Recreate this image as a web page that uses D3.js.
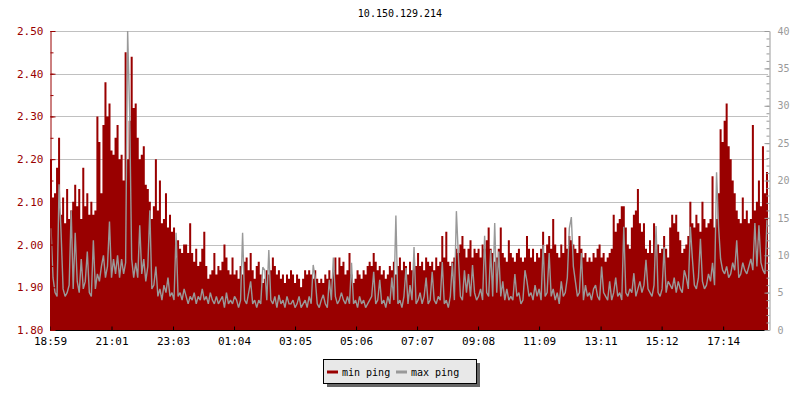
<!DOCTYPE html>
<html>
<head>
<meta charset="utf-8">
<script src="https://cdn.jsdelivr.net/npm/d3@7/dist/d3.min.js"></script>
<style>
  html, body { margin: 0; padding: 0; background: #ffffff; }
  svg { display: block; }
  text { font-family: "DejaVu Sans Mono", "Liberation Mono", monospace; }
</style>
</head>
<body>
<svg id="chart" width="800" height="400"></svg>
<script>
// ---------------- data ----------------
const title = "10.150.129.214";
const startTime = "18:59";
const sampleMinutes = 4;
const seriesNames = ["min ping", "max ping"];
const timeLabels = ["18:59","21:01","23:03","01:04","03:05","05:06","07:07","09:08","11:09","13:11","15:12","17:14"];
const leftTicks = [1.80, 1.90, 2.00, 2.10, 2.20, 2.30, 2.40, 2.50];
const rightTicks = [0, 5, 10, 15, 20, 25, 30, 35, 40];

// min ping (left axis)
const minPing = [
2.20,2.11,2.12,2.18,2.25,2.07,2.11,2.05,2.13,2.06,
2.08,2.10,2.14,2.09,2.13,2.06,2.18,2.09,2.12,2.07,
2.10,2.07,2.08,2.30,2.24,2.12,2.28,2.38,2.30,2.33,
2.22,2.21,2.25,2.28,2.20,2.21,2.15,2.45,2.20,2.29,
2.44,2.32,2.33,2.25,2.20,2.21,2.23,2.14,2.13,2.10,
2.06,2.09,2.20,2.08,2.15,2.05,2.06,2.12,2.04,2.07,
2.03,2.04,1.97,2.01,1.99,1.98,2.00,2.00,1.98,2.05,
1.98,1.96,1.99,1.95,1.96,1.99,2.03,1.95,1.92,1.93,
1.94,1.98,1.93,1.95,1.94,1.96,2.00,1.97,1.94,1.93,
1.97,1.93,1.94,1.92,1.95,1.93,1.96,1.97,1.94,1.98,
1.94,1.92,1.95,1.96,1.93,1.91,1.92,1.94,1.93,
1.94,1.97,1.95,1.93,1.94,1.92,1.93,1.91,1.93,1.92,
1.94,1.93,1.91,1.93,1.92,1.90,1.92,1.94,1.93,1.94,
1.93,1.92,1.94,1.92,1.91,1.92,1.91,1.93,1.92,1.94,
1.92,1.94,1.97,1.93,1.97,1.95,1.96,1.93,1.94,1.98,
1.93,1.91,1.92,1.94,1.93,1.92,1.94,1.93,1.95,1.96,
1.95,1.98,1.96,1.94,1.95,1.93,1.94,1.92,1.93,1.95,
1.94,1.96,1.93,1.95,1.97,1.94,1.96,1.95,1.93,1.96,
1.94,1.96,1.95,1.98,1.95,1.96,1.94,1.97,1.96,1.95,
1.96,1.94,1.97,1.95,1.96,2.02,1.97,2.03,1.96,1.95,
1.96,1.97,1.99,1.98,2.00,2.02,1.99,1.97,1.99,
2.01,1.97,1.99,1.98,1.99,1.97,2.00,1.99,2.01,2.04,
1.99,1.98,1.96,1.97,1.99,2.04,1.98,1.97,1.96,2.01,
1.98,1.97,1.96,1.98,1.99,1.97,1.96,1.97,2.02,1.99,
1.97,1.99,1.96,1.98,1.97,1.99,2.03,1.98,2.00,2.02,
1.99,2.06,2.00,1.98,1.97,2.00,1.98,2.04,1.99,2.02,
2.01,2.00,1.99,1.98,2.02,1.99,1.97,1.98,1.96,1.97,
1.96,1.98,1.97,1.99,2.00,1.97,1.98,1.96,1.97,1.98,
1.99,2.07,2.03,2.05,2.06,2.09,2.09,2.04,2.00,1.99,
2.04,2.07,2.08,2.13,2.05,2.03,2.05,1.99,1.98,2.01,
1.98,2.05,1.99,2.00,1.98,1.99,2.02,1.99,1.97,
2.04,2.07,2.05,2.07,2.03,2.01,1.98,1.99,2.00,2.02,
2.10,2.05,2.04,2.07,2.05,2.03,2.10,2.06,2.04,2.05,
2.06,2.16,2.04,2.06,2.12,2.27,2.24,2.29,2.33,2.23,
2.20,2.15,2.12,2.08,2.06,2.05,2.11,2.06,2.08,2.05,
2.06,2.28,2.08,2.10,2.15,2.09,2.23,2.12,2.17
];

// max ping (right axis)
const maxPing = [
13.6,7.0,5.0,4.5,19.5,13.0,5.5,4.5,5.0,6.0,
16.0,5.5,13.0,6.5,5.0,9.5,5.5,6.5,10.5,5.0,
4.5,12.0,5.5,7.5,6.5,8.5,10.0,7.0,8.5,14.5,
7.0,9.5,7.5,10.0,7.0,9.5,7.5,9.0,40.0,29.0,
9.5,7.0,9.0,7.0,14.0,7.5,9.5,6.5,8.5,16.0,
5.5,6.0,8.5,4.5,5.5,4.0,6.0,5.0,7.0,4.5,
5.0,4.0,13.0,4.5,5.0,4.0,5.5,4.5,3.5,4.5,
4.0,5.0,3.5,4.5,4.0,5.5,4.0,4.5,3.5,5.0,
4.0,3.5,4.5,3.5,4.0,4.5,3.0,5.0,3.5,4.0,
3.5,4.5,4.0,3.0,4.0,13.0,4.0,3.5,5.0,6.5,
3.5,4.0,3.0,4.0,3.5,8.4,8.0,4.0,10.7,
4.0,3.5,4.5,3.0,4.7,3.5,4.0,3.0,4.5,3.5,
3.5,4.0,3.0,3.5,4.5,3.0,3.5,4.0,3.0,4.5,
3.5,8.7,6.9,3.5,3.0,4.0,4.7,3.5,3.0,6.7,
4.0,9.7,4.5,3.5,4.0,5.0,4.0,3.5,4.5,3.5,
9.0,3.5,4.0,3.0,4.5,3.5,4.0,3.0,3.5,4.0,
4.5,7.8,3.5,4.0,6.7,3.5,4.0,3.0,4.5,3.5,
7.0,4.0,15.3,3.5,4.0,3.0,4.5,8.3,3.5,6.0,
4.0,11.1,3.5,4.0,5.0,3.5,4.5,7.0,3.5,4.0,
7.8,4.0,3.5,4.5,4.0,9.1,3.5,4.0,3.0,4.5,
9.0,4.0,15.9,9.8,4.5,4.0,8.0,5.0,7.5,
4.5,8.7,5.0,4.0,4.5,5.5,4.0,12.6,5.0,4.5,
10.7,4.5,14.3,5.0,10.5,4.5,6.5,4.0,5.5,4.0,
4.5,4.0,7.5,4.5,5.0,3.5,4.0,8.0,6.5,4.5,
5.0,4.0,6.0,4.5,5.5,4.0,11.4,4.5,5.0,10.3,
4.5,5.5,4.0,5.0,3.5,6.5,4.5,5.0,7.0,13.6,
15.1,8.5,6.5,4.5,5.0,10.3,4.0,6.0,4.5,5.0,
4.0,5.5,6.0,4.5,4.0,8.5,5.0,4.5,4.0,6.5,
4.0,5.0,7.0,4.5,5.0,4.0,13.8,5.0,4.5,5.5,
5.0,7.6,4.5,5.5,6.5,5.0,6.0,9.4,5.5,5.0,
4.5,6.0,13.9,5.0,4.5,5.5,11.1,5.0,6.5,
6.0,5.5,7.0,5.0,6.5,5.5,5.0,8.0,7.0,5.5,
13.8,9.6,6.0,5.5,7.0,12.2,6.5,5.5,6.0,7.5,
6.5,9.0,6.0,21.1,13.8,9.5,8.0,7.5,8.5,7.0,
7.5,9.0,8.0,12.0,7.0,7.5,9.0,8.0,7.5,8.5,
9.5,8.0,14.3,8.5,14.0,9.0,8.0,7.5,14.7
];

// ---------------- chart ----------------
const RED = "#990000", GRAY = "#999999";
const svg = d3.select("#chart");
const padL = 50, padR = 768, padT = 31, padB = 330;

const [sh, sm] = startTime.split(":").map(Number);
const t0 = new Date(2024, 0, 1, sh, sm);
const addMin = (d, m) => new Date(d.getTime() + m * 60000);
const tEnd = addMin(t0, minPing.length * sampleMinutes);

const x = d3.scaleTime().domain([t0, tEnd]).range([padL, padR]);
const yL = d3.scaleLinear().domain([1.8, 2.5]).range([padB, padT]);
const yR = d3.scaleLinear().domain([0, 40]).range([padB, padT]);

const rows = minPing.map((v, i) => ({ t: addMin(t0, i * sampleMinutes), min: v, max: maxPing[i] }));

// title
svg.append("text").attr("x", 400).attr("y", 17).attr("text-anchor", "middle")
  .attr("font-size", 10).attr("fill", "#000").text(title);

// gridlines
svg.append("g").selectAll("line").data(leftTicks).join("line")
  .attr("x1", padL).attr("x2", padR)
  .attr("y1", d => Math.round(yL(d)) + 0.5).attr("y2", d => Math.round(yL(d)) + 0.5)
  .attr("stroke", "#c0c0c0").attr("stroke-width", 1);

svg.append("defs").append("clipPath").attr("id", "plotclip")
  .append("rect").attr("x", padL).attr("y", padT).attr("width", padR - padL).attr("height", padB - padT);

const plot = svg.append("g").attr("clip-path", "url(#plotclip)");

// min ping area (step)
const areaRows = rows.concat([{ t: tEnd, min: rows[rows.length - 1].min }]);
plot.append("path").datum(areaRows)
  .attr("d", d3.area().curve(d3.curveStepAfter)
    .x(d => x(d.t)).y0(padB).y1(d => yL(d.min)))
  .attr("fill", RED);

// max ping line
plot.append("path").datum(rows)
  .attr("d", d3.line().x(d => x(d.t) + 1).y(d => yR(d.max)))
  .attr("fill", "none").attr("stroke", GRAY).attr("stroke-width", 1.4)
  .attr("stroke-linejoin", "miter").attr("stroke-miterlimit", 2);

// x axis
const tickDates = timeLabels.map(s => {
  const [h, m] = s.split(":").map(Number);
  let d = new Date(2024, 0, 1, h, m);
  if (d < t0) d = new Date(2024, 0, 2, h, m);
  return d;
});
const xAxis = svg.append("g").attr("transform", `translate(0,${padB + 0.5})`)
  .call(d3.axisBottom(x).tickValues(tickDates)
    .tickFormat((d, i) => timeLabels[i]).tickSizeInner(-4).tickSizeOuter(0).tickPadding(7));
xAxis.select(".domain").attr("stroke", "#000").attr("d", `M${padL},0H${padR + 1}`);
xAxis.selectAll(".tick line").attr("stroke", "#000");
xAxis.selectAll("text").attr("font-size", 11).attr("fill", "#000")
  .attr("font-family", "DejaVu Sans Mono");

// left axis minor
const minorL = d3.range(0, 15).map(i => 1.8 + i * 0.05);
svg.append("g").attr("transform", `translate(${padL + 0.5},0)`)
  .call(d3.axisLeft(yL).tickValues(minorL).tickSizeInner(-3).tickSizeOuter(0).tickFormat(""))
  .call(g => g.select(".domain").remove())
  .selectAll("line").attr("stroke", RED);
// left axis major
const yAxL = svg.append("g").attr("transform", `translate(${padL + 0.5},0)`)
  .call(d3.axisLeft(yL).tickValues(leftTicks).tickSizeInner(-5).tickSizeOuter(0).tickPadding(7)
    .tickFormat(d3.format(".2f")));
yAxL.select(".domain").attr("stroke", RED);
yAxL.selectAll(".tick line").attr("stroke", RED);
yAxL.selectAll("text").attr("font-size", 11).attr("fill", RED).attr("font-family", "DejaVu Sans Mono");

// right axis minor
const minorR = d3.range(0, 41);
svg.append("g").attr("transform", `translate(${padR + 1.5},0)`)
  .call(d3.axisRight(yR).tickValues(minorR).tickSizeInner(-3).tickSizeOuter(0).tickFormat(""))
  .call(g => g.select(".domain").remove())
  .selectAll("line").attr("stroke", GRAY);
const yAxR = svg.append("g").attr("transform", `translate(${padR + 1.5},0)`)
  .call(d3.axisRight(yR).tickValues(rightTicks).tickSizeInner(-5).tickSizeOuter(0).tickPadding(8));
yAxR.select(".domain").attr("stroke", GRAY);
yAxR.selectAll(".tick line").attr("stroke", GRAY);
yAxR.selectAll("text").attr("font-size", 10).attr("fill", GRAY).attr("font-family", "DejaVu Sans Mono");

// legend
const lg = svg.append("g").attr("transform", "translate(323,359)");
lg.append("rect").attr("x", 4).attr("y", 4).attr("width", 153).attr("height", 24).attr("fill", "#666666");
lg.append("rect").attr("x", 0.5).attr("y", 0.5).attr("width", 153).attr("height", 24)
  .attr("fill", "#e8e8e8").attr("stroke", "#000").attr("stroke-width", 1);
const items = [{ name: seriesNames[0], color: RED, x: 4 }, { name: seriesNames[1], color: GRAY, x: 73 }];
items.forEach(it => {
  lg.append("line").attr("x1", it.x).attr("x2", it.x + 11).attr("y1", 13).attr("y2", 13)
    .attr("stroke", it.color).attr("stroke-width", 3);
  lg.append("text").attr("x", it.x + 15).attr("y", 16.5).attr("font-size", 10)
    .attr("fill", "#000").text(it.name);
});
</script>
</body>
</html>
